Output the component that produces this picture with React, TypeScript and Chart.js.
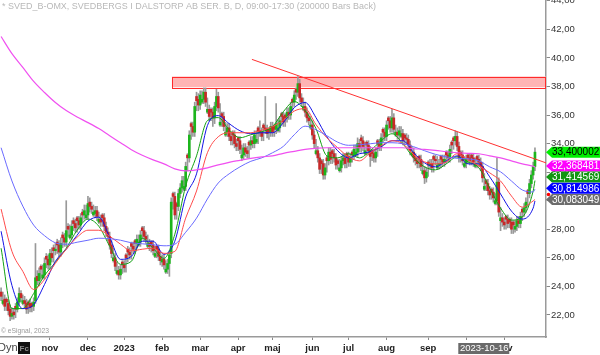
import React, { useEffect, useRef } from 'react';
import { Chart, registerables } from 'chart.js';

Chart.register(...registerables);

// ---- price data (daily candles, one per trading day) ----
const opens = [
  23.6, 22.8, 23.1, 23.1, 22.8, 22.4, 21.9, 22.2, 22.6, 22.4,
  22.9, 23.5, 22.8, 23.0, 22.8, 22.9, 22.8, 22.8, 22.6, 23.0,
  24.7, 24.4, 25.4, 24.6, 24.8, 26.1, 25.9, 25.5, 26.3, 26.7,
  26.5, 27.1, 26.9, 26.4, 27.6, 27.4, 27.1, 28.2, 27.4, 27.6,
  28.6, 28.4, 28.8, 28.6, 28.3, 29.2, 29.0, 28.8, 29.0, 29.9,
  29.6, 29.0, 29.1, 29.3, 28.5, 28.7, 29.0, 28.8, 28.2, 27.8,
  27.5, 26.9, 25.8, 26.0, 24.9, 25.1, 24.8, 25.7, 25.5, 26.2,
  26.6, 26.4, 27.0, 26.8, 27.2, 27.0, 26.9, 27.1, 28.1, 27.9,
  27.5, 26.8, 27.0, 27.1, 26.9, 26.1, 26.8, 26.6, 26.1, 25.7,
  25.9, 25.0, 25.2, 25.6, 26.3, 30.5, 30.3, 29.8, 29.6, 30.5,
  30.9, 30.8, 31.0, 33.2, 33.0, 35.4, 35.2, 34.8, 37.3, 37.1,
  36.7, 36.9, 37.1, 37.6, 36.2, 36.4, 36.4, 36.2, 35.8, 36.6,
  37.3, 35.3, 36.1, 35.9, 34.6, 34.8, 35.1, 34.5, 34.8, 34.6,
  34.0, 34.4, 34.2, 33.0, 33.2, 33.7, 33.5, 34.1, 33.9, 34.2,
  34.0, 34.1, 35.1, 34.9, 34.8, 35.3, 35.1, 35.0, 35.0, 34.8,
  35.2, 35.2, 35.0, 34.9, 35.1, 36.1, 35.9, 36.0, 35.8, 36.2,
  36.0, 37.1, 36.9, 37.8, 37.6, 38.2, 37.2, 36.4, 36.6, 36.2,
  35.8, 35.1, 35.3, 34.6, 33.3, 33.5, 33.0, 32.8, 32.6, 31.8,
  33.0, 32.8, 33.4, 33.5, 33.3, 33.0, 32.8, 32.1, 32.3, 32.8,
  33.0, 33.3, 33.1, 32.7, 33.4, 33.2, 33.2, 33.4, 34.0, 34.4,
  34.2, 33.3, 34.1, 33.9, 33.5, 33.5, 33.3, 33.0, 34.2, 34.0,
  33.8, 35.0, 34.8, 34.5, 35.8, 35.6, 35.1, 35.8, 34.6, 34.8,
  34.6, 34.5, 34.7, 34.6, 34.4, 34.3, 33.9, 33.2, 33.4, 33.0,
  32.8, 33.1, 32.9, 31.9, 32.1, 31.6, 32.7, 32.5, 32.6, 33.1,
  32.9, 32.3, 32.5, 33.1, 32.9, 32.7, 33.4, 33.2, 33.0, 34.1,
  34.4, 34.2, 34.5, 33.8, 33.4, 33.2, 32.4, 32.6, 33.2, 33.0,
  33.2, 33.0, 32.4, 33.1, 32.9, 32.7, 32.4, 30.8, 31.4, 31.2,
  30.7, 30.8, 30.6, 29.8, 30.0, 31.3, 28.6, 28.8, 28.5, 28.9,
  28.7, 28.7, 28.5, 28.5, 28.0, 28.2, 28.6, 28.4, 29.4, 29.2,
  29.5, 30.7, 30.5, 31.2, 31.8, 32.4,
];

const highs = [
  23.9, 23.6, 23.4, 23.2, 23.0, 22.7, 22.5, 22.4, 22.8, 23.2,
  23.9, 23.7, 23.4, 23.3, 23.1, 23.0, 23.1, 22.9, 23.2, 27.0,
  25.1, 25.3, 25.5, 25.5, 26.0, 26.3, 26.2, 26.6, 26.7, 26.9,
  27.0, 27.3, 27.2, 27.4, 27.8, 27.7, 30.0, 28.4, 28.3, 28.6,
  28.8, 28.7, 28.9, 28.9, 29.1, 29.4, 29.7, 29.7, 30.3, 30.2,
  29.9, 29.7, 29.6, 29.6, 29.2, 29.0, 29.1, 29.1, 28.5, 28.1,
  27.8, 27.2, 26.7, 26.3, 25.7, 25.4, 25.5, 25.8, 25.8, 26.3,
  26.8, 26.7, 27.1, 27.1, 27.3, 27.6, 27.6, 27.9, 28.2, 28.2,
  27.8, 27.6, 27.3, 27.2, 27.2, 26.8, 26.9, 26.9, 26.4, 26.2,
  26.2, 25.8, 25.9, 26.5, 30.2, 30.6, 30.6, 29.9, 30.8, 31.2,
  31.7, 31.7, 32.7, 33.3, 34.9, 35.5, 35.5, 36.9, 37.6, 37.5,
  37.7, 37.7, 37.9, 37.9, 37.2, 36.7, 36.5, 36.5, 36.9, 37.8,
  37.6, 36.8, 36.2, 36.2, 35.5, 35.4, 35.4, 34.8, 34.9, 34.9,
  34.3, 34.5, 34.5, 33.9, 34.0, 34.0, 33.8, 34.2, 34.5, 34.5,
  34.9, 34.9, 35.2, 35.6, 35.1, 35.4, 37.3, 35.3, 35.1, 35.5,
  35.5, 35.3, 36.8, 35.7, 35.9, 36.2, 36.2, 36.1, 36.5, 36.5,
  36.9, 37.2, 37.7, 37.9, 38.7, 38.5, 37.5, 37.2, 36.9, 36.5,
  36.1, 35.9, 35.6, 34.9, 34.3, 33.8, 33.3, 32.9, 32.9, 32.6,
  33.1, 33.7, 33.7, 33.6, 33.6, 33.3, 32.9, 32.9, 33.1, 33.3,
  33.3, 33.4, 33.4, 33.3, 33.5, 33.9, 33.9, 34.4, 34.3, 34.6,
  34.5, 34.1, 34.2, 34.2, 33.8, 33.6, 33.6, 33.7, 34.3, 34.3,
  34.7, 35.1, 35.1, 35.6, 35.9, 35.9, 36.4, 36.1, 35.3, 35.1,
  35.2, 35.2, 35.0, 34.7, 34.7, 34.6, 34.2, 33.8, 33.7, 33.3,
  33.1, 33.2, 33.2, 32.7, 32.4, 32.3, 32.8, 32.9, 32.9, 33.2,
  33.2, 33.1, 32.9, 33.2, 33.2, 33.2, 33.5, 33.5, 33.9, 34.2,
  34.5, 34.9, 34.8, 34.1, 33.5, 33.5, 33.1, 33.2, 33.3, 33.3,
  33.3, 33.3, 33.0, 33.2, 33.2, 33.0, 32.7, 31.9, 31.5, 31.5,
  31.0, 30.9, 30.9, 30.5, 33.0, 31.6, 29.5, 29.1, 28.8, 29.0,
  29.0, 28.8, 28.8, 28.6, 28.6, 28.9, 28.9, 29.2, 29.5, 29.8,
  30.2, 30.8, 31.5, 32.1, 32.7, 33.7,
];

const lows = [
  23.0, 22.7, 22.3, 22.3, 22.0, 21.6, 21.7, 21.7, 21.8, 22.2,
  22.7, 22.9, 22.7, 22.5, 22.1, 22.1, 22.2, 22.2, 22.3, 22.8,
  24.1, 24.1, 24.5, 24.5, 24.5, 25.3, 25.2, 25.2, 25.7, 25.7,
  26.2, 26.3, 26.0, 26.1, 26.7, 26.8, 26.8, 27.5, 27.3, 27.3,
  27.9, 27.8, 27.8, 28.0, 28.0, 28.5, 28.7, 28.7, 28.7, 29.2,
  29.1, 28.9, 28.8, 28.6, 28.4, 28.2, 28.2, 27.9, 27.5, 27.2,
  26.6, 26.0, 25.7, 25.1, 24.8, 24.5, 24.5, 24.9, 25.0, 25.0,
  25.7, 25.9, 25.9, 26.3, 26.3, 26.7, 26.8, 26.8, 27.3, 27.2,
  27.0, 26.7, 26.5, 26.4, 26.2, 26.0, 26.0, 25.8, 25.5, 25.4,
  25.2, 24.9, 24.9, 24.7, 26.0, 29.4, 28.7, 28.7, 29.3, 30.2,
  30.6, 30.7, 30.7, 32.1, 32.7, 34.3, 34.5, 34.5, 36.3, 36.3,
  36.4, 36.8, 36.8, 36.6, 36.1, 35.6, 35.6, 35.2, 35.4, 36.3,
  36.2, 35.2, 35.2, 34.9, 34.5, 34.5, 34.2, 33.9, 33.9, 33.7,
  33.5, 33.5, 33.3, 32.8, 32.9, 33.1, 33.0, 33.0, 33.6, 33.7,
  33.7, 34.0, 34.0, 34.5, 34.2, 34.2, 34.7, 34.4, 34.3, 34.5,
  34.5, 34.5, 34.7, 34.8, 34.8, 35.3, 35.2, 35.2, 35.5, 35.7,
  35.7, 36.3, 36.6, 37.1, 37.3, 36.9, 36.6, 36.3, 35.9, 35.5,
  35.3, 35.0, 34.3, 33.7, 33.2, 32.7, 31.9, 31.9, 31.5, 31.5,
  32.0, 32.5, 32.6, 32.6, 32.7, 32.2, 32.2, 32.0, 32.0, 32.5,
  32.3, 32.3, 32.4, 32.4, 32.7, 32.9, 33.1, 33.1, 33.4, 33.4,
  33.5, 33.2, 33.2, 33.2, 32.4, 32.8, 32.7, 32.7, 33.1, 33.5,
  33.5, 34.1, 34.2, 34.2, 35.0, 34.8, 34.8, 34.7, 34.5, 34.3,
  34.3, 34.4, 33.9, 33.9, 34.0, 33.6, 33.2, 33.1, 32.7, 32.5,
  32.3, 32.3, 32.1, 31.8, 31.2, 31.3, 31.7, 32.2, 32.0, 32.0,
  32.5, 32.2, 32.2, 32.3, 32.4, 32.4, 32.6, 32.7, 32.7, 33.3,
  33.6, 33.9, 33.5, 32.7, 32.7, 32.5, 32.3, 32.3, 32.6, 32.5,
  32.5, 32.4, 32.3, 32.3, 32.4, 32.1, 31.3, 30.7, 30.7, 30.4,
  30.1, 30.1, 29.9, 29.7, 29.7, 28.9, 27.9, 28.2, 28.0, 28.0,
  28.1, 28.1, 27.7, 27.7, 27.8, 27.9, 28.1, 28.1, 28.6, 28.9,
  29.2, 29.6, 30.2, 30.9, 31.5, 32.1,
];

const closes = [
  23.3, 23.0, 22.6, 22.9, 22.3, 21.9, 22.1, 22.0, 22.4, 22.9,
  23.5, 23.2, 23.0, 22.8, 22.4, 22.7, 22.5, 22.6, 22.9, 24.6,
  24.4, 24.9, 25.2, 24.8, 25.6, 25.9, 25.5, 26.3, 26.0, 26.5,
  26.6, 26.9, 26.4, 27.0, 27.4, 27.1, 27.9, 28.0, 27.6, 28.2,
  28.4, 28.1, 28.6, 28.3, 28.8, 29.0, 29.3, 29.0, 29.8, 29.6,
  29.4, 29.2, 29.3, 28.9, 28.7, 28.5, 28.8, 28.2, 27.8, 27.5,
  26.9, 26.3, 26.0, 25.4, 25.1, 24.8, 25.2, 25.5, 25.3, 26.0,
  26.4, 26.2, 26.8, 26.6, 27.0, 27.3, 27.1, 27.6, 27.9, 27.5,
  27.3, 27.0, 26.8, 26.9, 26.5, 26.3, 26.6, 26.1, 25.8, 25.9,
  25.5, 25.2, 25.6, 26.2, 29.9, 30.3, 29.0, 29.6, 30.5, 30.9,
  31.4, 31.0, 32.4, 33.0, 34.6, 35.2, 34.8, 36.6, 37.0, 36.7,
  37.4, 37.1, 37.6, 36.9, 36.4, 35.9, 36.2, 35.8, 36.6, 37.3,
  36.5, 35.5, 35.9, 35.2, 34.8, 35.1, 34.5, 34.2, 34.6, 34.0,
  33.8, 34.2, 33.6, 33.2, 33.7, 33.4, 33.3, 33.9, 34.2, 34.0,
  34.6, 34.3, 34.9, 34.8, 34.5, 35.1, 35.0, 34.7, 34.8, 35.2,
  34.8, 35.0, 35.4, 35.1, 35.6, 35.9, 35.5, 35.8, 36.2, 36.0,
  36.6, 36.9, 37.4, 37.6, 38.2, 37.2, 36.9, 36.6, 36.2, 35.8,
  35.6, 35.3, 34.6, 34.0, 33.5, 33.0, 32.2, 32.6, 31.8, 32.3,
  32.8, 33.4, 32.9, 33.3, 33.0, 32.5, 32.6, 32.3, 32.8, 33.0,
  32.6, 33.1, 32.7, 33.0, 33.2, 33.6, 33.4, 34.0, 33.7, 34.2,
  33.8, 33.5, 33.9, 33.5, 33.1, 33.3, 33.0, 33.4, 34.0, 33.8,
  34.4, 34.8, 34.5, 35.3, 35.6, 35.1, 35.8, 35.0, 34.8, 34.6,
  34.9, 34.7, 34.2, 34.4, 34.3, 33.9, 33.5, 33.4, 33.0, 32.8,
  32.6, 32.9, 32.4, 32.1, 31.6, 32.0, 32.5, 32.6, 32.3, 32.9,
  32.8, 32.5, 32.6, 32.9, 32.7, 32.9, 33.2, 33.0, 33.6, 33.9,
  34.2, 34.5, 33.8, 33.0, 33.2, 32.8, 32.6, 32.9, 33.0, 32.8,
  33.0, 32.7, 32.6, 32.9, 32.7, 32.4, 31.6, 31.0, 31.2, 30.7,
  30.4, 30.6, 30.2, 30.0, 31.3, 29.2, 28.8, 28.5, 28.3, 28.7,
  28.4, 28.5, 28.0, 28.3, 28.2, 28.6, 28.4, 28.9, 29.2, 29.5,
  29.9, 30.5, 31.2, 31.8, 32.4, 33.4,
];

// ---- moving averages, read at these bar indices ----
const maIdx = [
  0, 6, 12, 18, 24, 30, 36, 42, 48, 54, 60, 66, 72, 78, 84, 90, 96, 102, 108, 114,
  120, 126, 132, 138, 144, 150, 156, 162, 168, 174, 180, 186, 192, 198, 204, 210,
  216, 222, 228, 234, 240, 246, 252, 258, 264, 270, 276, 282, 288, 294, 295,
];
const maPink = [
  41.5, 40.3, 39.34, 38.36, 37.58, 36.88, 36.31, 35.86, 35.47, 35.05,
  34.55, 34.06, 33.57, 33.18, 32.86, 32.58, 32.23, 32.09, 32.16, 32.3,
  32.51, 32.69, 32.83, 32.97, 33.07, 33.14, 33.32, 33.46, 33.6, 33.67,
  33.71, 33.71, 33.71, 33.71, 33.71, 33.71, 33.71, 33.71, 33.64, 33.6,
  33.53, 33.43, 33.36, 33.32, 33.29, 33.14, 33.0, 32.79, 32.58, 32.41,
  32.37,
];
const maLightBlue = [
  33.71, 31.38, 29.62, 28.29, 27.55, 27.05, 26.95, 27.09, 27.23, 27.37,
  27.34, 27.23, 27.05, 26.98, 26.91, 26.84, 26.95, 27.79, 28.78, 30.12,
  31.24, 31.88, 32.37, 32.76, 33.0, 33.36, 33.81, 34.62, 35.22, 34.97,
  34.55, 34.1, 33.88, 33.92, 33.99, 34.06, 34.06, 33.99, 33.78, 33.5,
  33.25, 33.07, 32.97, 32.93, 32.79, 32.37, 32.02, 31.38, 30.75, 30.61,
  30.81,
];
const maRed = [
  29.41, 26.45, 25.05, 23.78, 24.48, 25.61, 26.6, 27.44, 27.93, 27.93,
  27.51, 26.95, 26.49, 26.6, 26.67, 26.31, 26.45, 28.78, 30.68, 33.36,
  34.48, 34.76, 34.76, 34.76, 34.94, 35.19, 35.64, 36.28, 36.45, 35.33,
  34.41, 33.71, 33.07, 32.79, 33.36, 33.85, 34.2, 33.99, 33.22, 32.72,
  32.58, 32.72, 33.29, 32.86, 32.44, 31.95, 31.38, 30.33, 29.55, 29.98,
  30.08,
];
const maBlue = [
  27.86, 24.06, 22.44, 22.72, 24.13, 25.75, 26.6, 27.58, 28.57, 28.85,
  27.44, 25.89, 26.1, 27.16, 27.16, 26.24, 27.16, 30.26, 31.88, 35.26,
  35.96, 35.4, 34.9, 34.69, 34.76, 34.76, 35.47, 36.52, 36.88, 35.82,
  34.48, 33.5, 33.0, 33.29, 33.43, 33.78, 34.2, 34.2, 33.36, 32.65,
  32.37, 32.79, 33.14, 32.58, 32.58, 31.67, 30.47, 29.27, 28.71, 29.48,
  29.98,
];
const maGreen = [
  26.67, 22.44, 22.44, 23.5, 24.76, 25.68, 26.67, 27.93, 28.71, 28.21,
  26.81, 25.54, 25.75, 27.37, 26.67, 25.96, 27.65, 31.03, 33.14, 35.61,
  35.82, 34.97, 34.41, 34.62, 34.83, 35.19, 36.24, 36.95, 36.31, 35.05,
  33.14, 33.0, 33.29, 33.0, 33.5, 34.2, 34.69, 33.99, 33.0, 32.37,
  32.16, 32.58, 33.07, 32.72, 32.3, 30.89, 29.48, 28.64, 28.85, 30.68,
  31.41,
];

// ---- drawing objects ----
const trendIdx = [138.6, 301.1];
const trendVal = [39.9, 32.65];
const zoneStartIdx = 94.4;
const zoneTop = 38.7;
const zoneBottom = 37.95;

// ---- axis / text ----
const monthIdx = [27, 48, 68, 89, 110, 131, 150, 172, 192, 213, 236, 257, 278];
const monthLabels = ['nov', 'dec', '2023', 'feb', 'mar', 'apr', 'maj', 'jun', 'jul', 'aug', 'sep', 'okt', 'nov'];
const cursorIdx = 267;
const cursorLabel = '2023-10-16';
const titleText = '* SVED_B-OMX, SVEDBERGS I DALSTORP AB SER. B, D, 09:00-17:30 (200000 Bars Back)';
const copyrightText = '\u00A9 eSignal, 2023';
const lastValues = [33.400002, 32.368481, 31.414569, 30.814986, 30.083049];
const lastLabels = ['33,400002', '32,368481', '31,414569', '30,814986', '30,083049'];

const FONT = '"Liberation Sans", Arial, sans-serif';

export default function App() {
  const ref = useRef<HTMLCanvasElement>(null);

  useEffect(() => {
    const idx = closes.map((_, i) => i);
    const wickData = idx.map((i) => ({ x: i, y: [lows[i], highs[i]] }));
    const bodyData = idx.map((i) => ({ x: i, y: [opens[i], closes[i]] }));
    const bodyColors = idx.map((i) => (closes[i] >= opens[i] ? '#1cb51c' : '#c82828'));
    const maPts = (arr: number[]) => maIdx.map((x, i) => ({ x, y: arr[i] }));

    const boxColors = ['#00ee00', '#ff00ff', '#129612', '#0000ff', '#6c6c6c'];
    const boxText = ['#000000', '#ffffff', '#ffffff', '#ffffff', '#ffffff'];

    const overlay = {
      id: 'overlay',
      beforeDatasetsDraw(chart: any) {
        const { ctx, chartArea, scales } = chart;
        const x0 = scales.x.getPixelForValue(zoneStartIdx);
        const y0 = scales.y.getPixelForValue(zoneTop);
        const y1 = scales.y.getPixelForValue(zoneBottom);
        ctx.save();
        ctx.fillStyle = '#ffb4b4';
        ctx.fillRect(x0, y0, chartArea.right - x0, y1 - y0);
        ctx.strokeStyle = '#ff2a2a';
        ctx.lineWidth = 1;
        ctx.strokeRect(Math.round(x0) + 0.5, Math.round(y0) + 0.5, chartArea.right - Math.round(x0) - 1, Math.round(y1 - y0));
        ctx.restore();
      },
      afterDraw(chart: any) {
        const { ctx, scales } = chart;
        ctx.save();
        ctx.textBaseline = 'middle';
        ctx.textAlign = 'left';
        ctx.font = `9px ${FONT}`;
        ctx.fillStyle = '#b8b8b8';
        ctx.fillText(titleText, 2, 7, 374);
        ctx.font = `8px ${FONT}`;
        ctx.fillStyle = '#999999';
        ctx.fillText(copyrightText, 1, 331, 48);
        ctx.font = `11px ${FONT}`;
        ctx.fillStyle = '#444444';
        ctx.fillText('Dyn', -2, 348);
        ctx.fillStyle = '#111111';
        ctx.fillRect(18, 342, 12, 12);
        ctx.fillStyle = '#8a8a8a';
        ctx.font = `bold 8px ${FONT}`;
        ctx.fillText('Fc', 19.5, 348.5);
        const xc = scales.x.getPixelForValue(cursorIdx);
        ctx.fillStyle = '#6a6a6a';
        ctx.fillRect(xc - 26, 343, 51, 11);
        ctx.fillStyle = '#ffffff';
        ctx.font = `9.5px ${FONT}`;
        ctx.textAlign = 'center';
        ctx.fillText(cursorLabel, xc, 348.5, 49);
        const ys = lastValues.map((v) => scales.y.getPixelForValue(v));
        for (let i = ys.length - 2; i >= 0; i--) ys[i] = Math.min(ys[i], ys[i + 1] - 11.2);
        ctx.textAlign = 'left';
        ctx.font = `10px ${FONT}`;
        ys.forEach((yc, i) => {
          ctx.fillStyle = boxColors[i];
          ctx.beginPath();
          ctx.moveTo(546, yc);
          ctx.lineTo(552, yc - 5.5);
          ctx.lineTo(600, yc - 5.5);
          ctx.lineTo(600, yc + 5.5);
          ctx.lineTo(552, yc + 5.5);
          ctx.closePath();
          ctx.fill();
          ctx.fillStyle = boxText[i];
          ctx.fillText(lastLabels[i], 552, yc + 0.5);
        });
        ctx.fillStyle = '#ff0000';
        ctx.beginPath();
        ctx.arc(548.5, ys[4] - 5, 1.8, 0, Math.PI * 2);
        ctx.fill();
        ctx.restore();
      },
    };

    const lineDs = (data: any[], color: string, width = 1) => ({
      type: 'line' as const,
      data,
      borderColor: color,
      borderWidth: width,
      pointRadius: 0,
      fill: false,
      cubicInterpolationMode: 'monotone' as const,
      order: 1,
    });

    const chart = new Chart(ref.current as HTMLCanvasElement, {
      type: 'bar',
      data: {
        datasets: [
          {
            type: 'bar',
            data: wickData as any,
            backgroundColor: '#999999',
            barThickness: 1,
            grouped: false,
            order: 10,
          } as any,
          {
            type: 'bar',
            data: bodyData as any,
            backgroundColor: bodyColors,
            barThickness: 2,
            minBarLength: 1,
            grouped: false,
            order: 9,
          } as any,
          lineDs(maPts(maPink), '#f050f0', 1.2),
          lineDs(maPts(maLightBlue), '#6a6aff'),
          lineDs(maPts(maRed), '#ff4a4a'),
          lineDs(maPts(maBlue), '#1414e6'),
          lineDs(maPts(maGreen), '#13a013'),
          {
            type: 'line',
            data: trendIdx.map((x, i) => ({ x, y: trendVal[i] })),
            borderColor: '#ff3030',
            borderWidth: 1,
            pointRadius: 0,
            fill: false,
            order: 0,
          } as any,
        ],
      },
      options: {
        animation: false,
        responsive: true,
        maintainAspectRatio: false,
        devicePixelRatio: 1,
        events: [],
        layout: { padding: 0 },
        plugins: { legend: { display: false }, tooltip: { enabled: false } },
        scales: {
          x: {
            type: 'linear',
            min: -0.6,
            max: 301.1,
            offset: false,
            position: 'bottom',
            grid: { drawOnChartArea: false, drawTicks: true, tickLength: 3, color: '#888888', offset: false },
            border: { display: true, color: '#9a9a9a', width: 1.5 },
            ticks: {
              autoSkip: false,
              maxRotation: 0,
              padding: 3,
              color: '#222222',
              font: { family: FONT, size: 9.5, weight: 'bold' },
              callback: (v: any) => {
                const k = monthIdx.indexOf(Number(v));
                return k >= 0 ? monthLabels[k] : '';
              },
            },
            afterBuildTicks: (s: any) => {
              s.ticks = monthIdx.map((v) => ({ value: v }));
            },
            afterFit: (s: any) => {
              s.height = 18;
              s.paddingLeft = 0;
              s.paddingRight = 0;
            },
          } as any,
          y: {
            type: 'linear',
            position: 'right',
            min: 20.45,
            max: 44.06,
            beginAtZero: false,
            grid: { drawOnChartArea: false, drawTicks: true, tickLength: 4, color: '#888888' },
            border: { display: true, color: '#9a9a9a', width: 1.5 },
            ticks: {
              stepSize: 2,
              includeBounds: false,
              padding: 1,
              color: '#333333',
              font: { family: FONT, size: 9.5 },
              callback: (v: any) => Number(v).toFixed(2).replace('.', ','),
            },
            afterFit: (s: any) => {
              s.width = 54;
              s.paddingTop = 0;
              s.paddingBottom = 0;
            },
          } as any,
        },
      },
      plugins: [overlay],
    });
    return () => chart.destroy();
  }, []);

  return (
    <div style={{ position: 'fixed', left: 0, top: 0, width: 600, height: 355, background: '#ffffff' }}>
      <canvas ref={ref} />
    </div>
  );
}
